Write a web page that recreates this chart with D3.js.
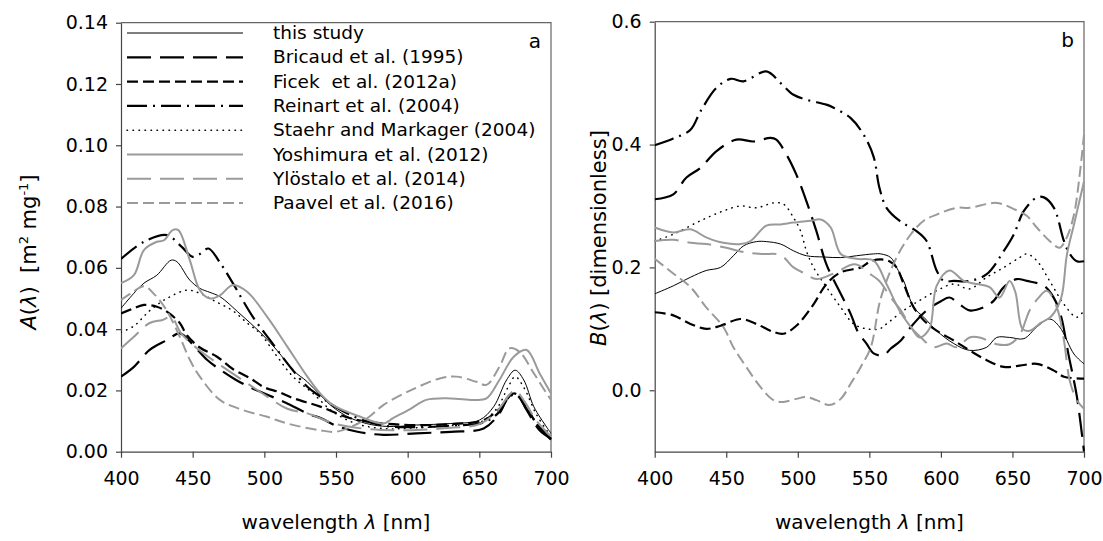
<!DOCTYPE html>
<html>
<head>
<meta charset="utf-8">
<script src="https://cdn.jsdelivr.net/npm/d3@7"></script>
<style>
  body { margin: 0; background: #fff; }
  text { font-family: "DejaVu Sans", sans-serif; fill: #000; white-space: pre; }
</style>
</head>
<body>
<svg id="chart" width="1103" height="541"></svg>
<script>
// wavelength ticks shared by both panels
const wlTicks = [400, 450, 500, 550, 600, 650, 700];
const aTicks = [0, 0.02, 0.04, 0.06, 0.08, 0.10, 0.12, 0.14];
const bTicks = [0, 0.2, 0.4, 0.6];

const seriesNames = [
  "this study", "Bricaud et al. (1995)", "Ficek  et al. (2012a)", "Reinart et al. (2004)",
  "Staehr and Markager (2004)", "Yoshimura et al. (2012)", "Ylöstalo et al. (2014)", "Paavel et al. (2016)"
];

// panel a: A(lambda) [m2 mg-1] as [wavelength, value]
const thisStudyA = [[400,0.0468],[409,0.0517],[416,0.055],[425,0.0576],[435,0.0625],[439,0.062],[448,0.056],[455,0.0533],[462,0.052],[469,0.0506],[483,0.045],[497,0.039],[509,0.033],[520,0.0266],[530,0.0228],[539,0.0185],[548,0.0145],[560,0.011],[575,0.0088],[590,0.0082],[606,0.0087],[630,0.0092],[650,0.0103],[660,0.0147],[669,0.0234],[675,0.0266],[681,0.0234],[688,0.0147],[697,0.008],[700,0.006]];
const bricaudA = [[400,0.0245],[409,0.0277],[420,0.0332],[432,0.0364],[441,0.0386],[450,0.035],[460,0.030],[470,0.0265],[480,0.0235],[490,0.021],[500,0.019],[515,0.016],[530,0.0125],[540,0.0108],[550,0.0085],[565,0.0065],[583,0.0055],[606,0.006],[630,0.0065],[653,0.0076],[664,0.0125],[671,0.0185],[676,0.019],[683,0.0136],[692,0.007],[700,0.0043]];
const ficekA = [[400,0.0451],[409,0.0468],[416,0.0479],[425,0.0473],[432,0.0457],[441,0.042],[446,0.038],[455,0.034],[467,0.031],[478,0.027],[490,0.024],[500,0.021],[510,0.0195],[520,0.0175],[539,0.0147],[560,0.0109],[583,0.0092],[606,0.0087],[630,0.009],[653,0.0103],[664,0.014],[674,0.019],[680,0.017],[690,0.009],[700,0.004]];
const reinartA = [[400,0.0629],[416,0.0685],[432,0.0707],[442,0.067],[450,0.0636],[455,0.0645],[461,0.0663],[470,0.061],[478,0.055],[492,0.044],[504,0.0364],[518,0.0277],[530,0.0212],[539,0.018],[550,0.0145],[565,0.011],[583,0.0085],[606,0.008],[630,0.0085],[653,0.0095],[664,0.013],[671,0.018],[676,0.0185],[683,0.014],[692,0.008],[700,0.004]];
const staehrA = [[400,0.039],[409,0.041],[420,0.046],[432,0.050],[446,0.0527],[455,0.0517],[466,0.049],[478,0.046],[488,0.042],[497,0.0386],[509,0.031],[520,0.0245],[534,0.019],[548,0.013],[565,0.009],[585,0.0075],[606,0.0078],[630,0.0085],[650,0.0095],[662,0.014],[670,0.021],[675,0.0245],[681,0.021],[690,0.012],[700,0.005]];
const yoshimuraA = [[400,0.055],[409,0.0576],[416,0.0658],[425,0.0685],[430,0.069],[436,0.0723],[440,0.0723],[448,0.0625],[455,0.0527],[462,0.050],[469,0.051],[478,0.0544],[488,0.0522],[502,0.044],[516,0.0343],[530,0.0245],[539,0.019],[548,0.0152],[567,0.0114],[583,0.0092],[590,0.011],[602,0.014],[613,0.0169],[630,0.0174],[646,0.0169],[655,0.0174],[664,0.0234],[674,0.031],[683,0.0332],[692,0.0256],[700,0.019]];
const ylostaloA = [[400,0.0337],[409,0.0375],[420,0.042],[429,0.043],[435,0.044],[442,0.0386],[455,0.033],[478,0.0255],[502,0.018],[516,0.014],[530,0.0125],[550,0.009],[570,0.0075],[590,0.007],[610,0.0072],[630,0.0078],[650,0.009],[662,0.013],[670,0.018],[675,0.02],[682,0.016],[690,0.01],[700,0.005]];
const paavelA = [[400,0.0495],[408,0.052],[416,0.054],[424,0.051],[432,0.046],[441,0.0375],[448,0.030],[455,0.0245],[469,0.0169],[485,0.0136],[502,0.0114],[516,0.0092],[539,0.007],[550,0.0065],[560,0.008],[572,0.011],[583,0.0152],[602,0.020],[623,0.024],[634,0.0245],[648,0.0228],[655,0.0218],[664,0.0277],[671,0.0337],[678,0.0326],[688,0.0256],[697,0.019],[700,0.017]];

// panel b: B(lambda) [dimensionless]
const thisStudyB = [[400,0.157],[413,0.17],[425,0.184],[436,0.195],[446,0.2],[455,0.219],[462,0.235],[471,0.242],[478,0.242],[488,0.238],[497,0.227],[506,0.219],[518,0.217],[530,0.216],[541,0.219],[553,0.222],[558,0.222],[565,0.216],[569,0.2],[574,0.178],[581,0.135],[588,0.119],[597,0.097],[609,0.076],[620,0.065],[632,0.07],[639,0.086],[648,0.086],[658,0.084],[667,0.103],[676,0.116],[683,0.103],[693,0.059],[700,0.043]];
const bricaudB = [[400,0.311],[413,0.319],[422,0.346],[432,0.362],[443,0.389],[457,0.408],[469,0.405],[481,0.411],[485,0.408],[492,0.384],[499,0.351],[506,0.308],[513,0.259],[520,0.205],[530,0.157],[537,0.124],[542,0.095],[548,0.076],[553,0.06],[560,0.057],[565,0.068],[572,0.081],[579,0.103],[590,0.13],[600,0.145],[606,0.151],[613,0.14],[620,0.13],[630,0.135],[637,0.146],[644,0.168],[653,0.181],[660,0.178],[672,0.17],[679,0.15],[684,0.12],[689,0.06],[695,-0.01],[700,-0.1]];
const ficekB = [[400,0.127],[413,0.122],[425,0.108],[436,0.1],[446,0.105],[460,0.116],[471,0.108],[483,0.095],[490,0.092],[499,0.105],[511,0.14],[520,0.173],[530,0.192],[544,0.2],[551,0.21],[558,0.213],[564,0.21],[569,0.2],[574,0.173],[581,0.135],[588,0.114],[597,0.097],[609,0.081],[620,0.065],[632,0.049],[644,0.038],[655,0.04],[667,0.043],[679,0.032],[686,0.022],[700,0.019]];
const reinartB = [[400,0.399],[413,0.41],[425,0.424],[432,0.454],[443,0.492],[453,0.507],[462,0.503],[478,0.519],[488,0.50],[497,0.481],[506,0.473],[520,0.465],[525,0.46],[537,0.443],[546,0.416],[553,0.38],[557,0.33],[562,0.297],[571,0.276],[583,0.259],[590,0.243],[597,0.195],[602,0.178],[609,0.178],[620,0.178],[632,0.189],[644,0.227],[651,0.254],[658,0.292],[667,0.314],[672,0.314],[679,0.297],[686,0.243],[690,0.222],[695,0.21],[700,0.21]];
const staehrB = [[400,0.243],[413,0.254],[432,0.276],[448,0.292],[460,0.3],[471,0.297],[483,0.305],[490,0.303],[497,0.281],[502,0.259],[506,0.227],[511,0.2],[520,0.168],[530,0.135],[539,0.108],[548,0.1],[557,0.1],[562,0.108],[574,0.13],[585,0.146],[597,0.162],[609,0.173],[620,0.165],[632,0.184],[644,0.2],[655,0.216],[660,0.222],[667,0.211],[676,0.178],[686,0.14],[695,0.119],[700,0.13]];
const yoshimuraB = [[400,0.265],[413,0.257],[425,0.262],[436,0.249],[448,0.24],[460,0.238],[467,0.243],[478,0.268],[488,0.27],[497,0.273],[509,0.276],[516,0.278],[523,0.265],[530,0.222],[541,0.214],[553,0.211],[562,0.173],[571,0.13],[579,0.103],[585,0.086],[592,0.1],[597,0.17],[606,0.195],[616,0.178],[625,0.173],[634,0.168],[641,0.151],[648,0.178],[652,0.16],[657,0.1],[662,0.097],[670,0.11],[677,0.12],[684,0.15],[688,0.22],[693,0.27],[700,0.34]];
const ylostaloB = [[400,0.243],[413,0.245],[425,0.24],[436,0.238],[450,0.232],[462,0.225],[475,0.222],[488,0.22],[497,0.2],[505,0.19],[513,0.181],[525,0.19],[540,0.205],[550,0.19],[557,0.178],[565,0.151],[572,0.13],[579,0.103],[586,0.086],[595,0.07],[604,0.076],[611,0.07],[620,0.086],[627,0.086],[639,0.075],[648,0.075],[655,0.09],[662,0.13],[668,0.15],[674,0.162],[681,0.135],[686,0.081],[690,0.016],[695,-0.016],[700,-0.03]];
const paavelB = [[400,0.214],[413,0.19],[425,0.168],[436,0.135],[448,0.103],[455,0.07],[464,0.038],[474,0.005],[483,-0.016],[490,-0.019],[499,-0.014],[506,-0.011],[513,-0.016],[522,-0.024],[530,-0.014],[537,0.011],[544,0.038],[551,0.07],[558,0.15],[569,0.216],[579,0.254],[588,0.276],[597,0.286],[611,0.297],[620,0.297],[639,0.305],[651,0.295],[660,0.284],[667,0.265],[676,0.243],[683,0.232],[688,0.249],[693,0.286],[697,0.351],[700,0.416]];

const GREY = "#9a9a9a";
// line styles per series, same order as seriesNames
const styles = [
  { color: "#000", width: 1,   dash: null },
  { color: "#000", width: 2.2, dash: "24 9" },
  { color: "#000", width: 2.2, dash: "11 5" },
  { color: "#000", width: 2.2, dash: "20 6 2 6" },
  { color: "#000", width: 1.5, dash: "0.5 5.5" },
  { color: GREY,   width: 2,   dash: null },
  { color: GREY,   width: 2,   dash: "24 9" },
  { color: GREY,   width: 2,   dash: "11 5" }
];

const panelA = [thisStudyA, bricaudA, ficekA, reinartA, staehrA, yoshimuraA, ylostaloA, paavelA];
const panelB = [thisStudyB, bricaudB, ficekB, reinartB, staehrB, yoshimuraB, ylostaloB, paavelB];

const svg = d3.select("#chart");

/**
 * Draw one panel with its axes, frame and curves
 */
function drawPanel(opts) {
  const x = d3.scaleLinear().domain([400, 700]).range([opts.left, opts.right]);
  const y = d3.scaleLinear().domain(opts.yDomain).range([opts.bottom, opts.top]);
  const g = svg.append("g");

  // frame: top and right edges
  g.append("path")
    .attr("d", `M${opts.left},${opts.top}H${opts.right}V${opts.bottom}`)
    .attr("fill", "none").attr("stroke", "#666").attr("stroke-width", 1.2);

  const xAxis = g.append("g")
    .attr("transform", `translate(0,${opts.bottom})`)
    .call(d3.axisBottom(x).tickValues(wlTicks).tickSize(6).tickSizeOuter(0).tickPadding(14));
  const yAxis = g.append("g")
    .attr("transform", `translate(${opts.left},0)`)
    .call(d3.axisLeft(y).tickValues(opts.yTicks).tickFormat(d3.format(opts.fmt)).tickSize(5).tickSizeOuter(0).tickPadding(8));
  [xAxis, yAxis].forEach(a => {
    a.select(".domain").attr("stroke", "#444").attr("stroke-width", 1.2);
    a.selectAll(".tick line").attr("stroke", "#444").attr("stroke-width", 1.2);
    a.selectAll(".tick text").style("font-size", "19px").style("font-family", "DejaVu Sans, sans-serif").attr("fill", "#000");
  });

  const line = d3.line()
    .x(d => x(d[0]))
    .y(d => y(d[1]))
    .curve(d3.curveCatmullRom);

  g.append("defs").append("clipPath").attr("id", opts.id + "-clip")
    .append("rect").attr("x", opts.left).attr("y", opts.top - 2)
    .attr("width", opts.right - opts.left + 1).attr("height", opts.bottom - opts.top + 2);

  g.append("g").attr("clip-path", `url(#${opts.id}-clip)`)
    .selectAll("path")
    .data(opts.data)
    .enter()
    .append("path")
      .attr("d", line)
      .attr("fill", "none")
      .attr("stroke", (d, i) => styles[i].color)
      .attr("stroke-width", (d, i) => styles[i].width)
      .attr("stroke-dasharray", (d, i) => styles[i].dash)
      .attr("stroke-linecap", (d, i) => i === 4 ? "round" : "butt");

  g.append("text")
    .attr("x", opts.right - 10).attr("y", opts.top + 25)
    .attr("text-anchor", "end")
    .style("font-size", "20px")
    .text(opts.letter);

  const xt = g.append("text")
    .attr("x", (opts.left + opts.right) / 2).attr("y", 529)
    .attr("text-anchor", "middle")
    .style("font-size", "20px");
  xt.append("tspan").text("wavelength ");
  xt.append("tspan").style("font-style", "italic").text("λ");
  xt.append("tspan").text(" [nm]");

  const yt = g.append("text")
    .attr("transform", `translate(${opts.yTitleX},${opts.yTitleY}) rotate(-90)`)
    .attr("text-anchor", "middle")
    .style("font-size", "21px");
  opts.yTitle(yt);

  return { x, y };
}

drawPanel({
  id: "pa", left: 121, right: 551, top: 22.7, bottom: 451.7,
  yDomain: [0, 0.14], yTicks: aTicks, fmt: ".2f", data: panelA, letter: "a",
  yTitleX: 36, yTitleY: 252,
  yTitle: t => {
    t.append("tspan").style("font-style", "italic").text("A");
    t.append("tspan").text("(");
    t.append("tspan").style("font-style", "italic").text("λ");
    t.append("tspan").text(")  [m");
    t.append("tspan").attr("dy", -8).style("font-size", "13px").text("2");
    t.append("tspan").attr("dy", 8).text(" mg");
    t.append("tspan").attr("dy", -8).style("font-size", "13px").text("-1");
    t.append("tspan").attr("dy", 8).text("]");
  }
});

drawPanel({
  id: "pb", left: 654.7, right: 1084, top: 21.7, bottom: 451.7,
  yDomain: [-0.1, 0.6], yTicks: bTicks, fmt: ".1f", data: panelB, letter: "b",
  yTitleX: 606, yTitleY: 238,
  yTitle: t => {
    t.append("tspan").style("font-style", "italic").text("B");
    t.append("tspan").text("(");
    t.append("tspan").style("font-style", "italic").text("λ");
    t.append("tspan").text(") [dimensionless]");
  }
});

// legend inside panel a
const legendTop = 33, legendStep = 24.3;
const legend = svg.append("g");
seriesNames.forEach((name, i) => {
  const yy = legendTop + i * legendStep;
  legend.append("line")
    .attr("x1", 127).attr("x2", 243).attr("y1", yy).attr("y2", yy)
    .attr("stroke", styles[i].color)
    .attr("stroke-width", styles[i].width)
    .attr("stroke-dasharray", styles[i].dash)
    .attr("stroke-linecap", i === 4 ? "round" : "butt");
  legend.append("text")
    .attr("x", 273).attr("y", yy + 6)
    .style("font-size", "18.5px")
    .text(name);
});
</script>
</body>
</html>
